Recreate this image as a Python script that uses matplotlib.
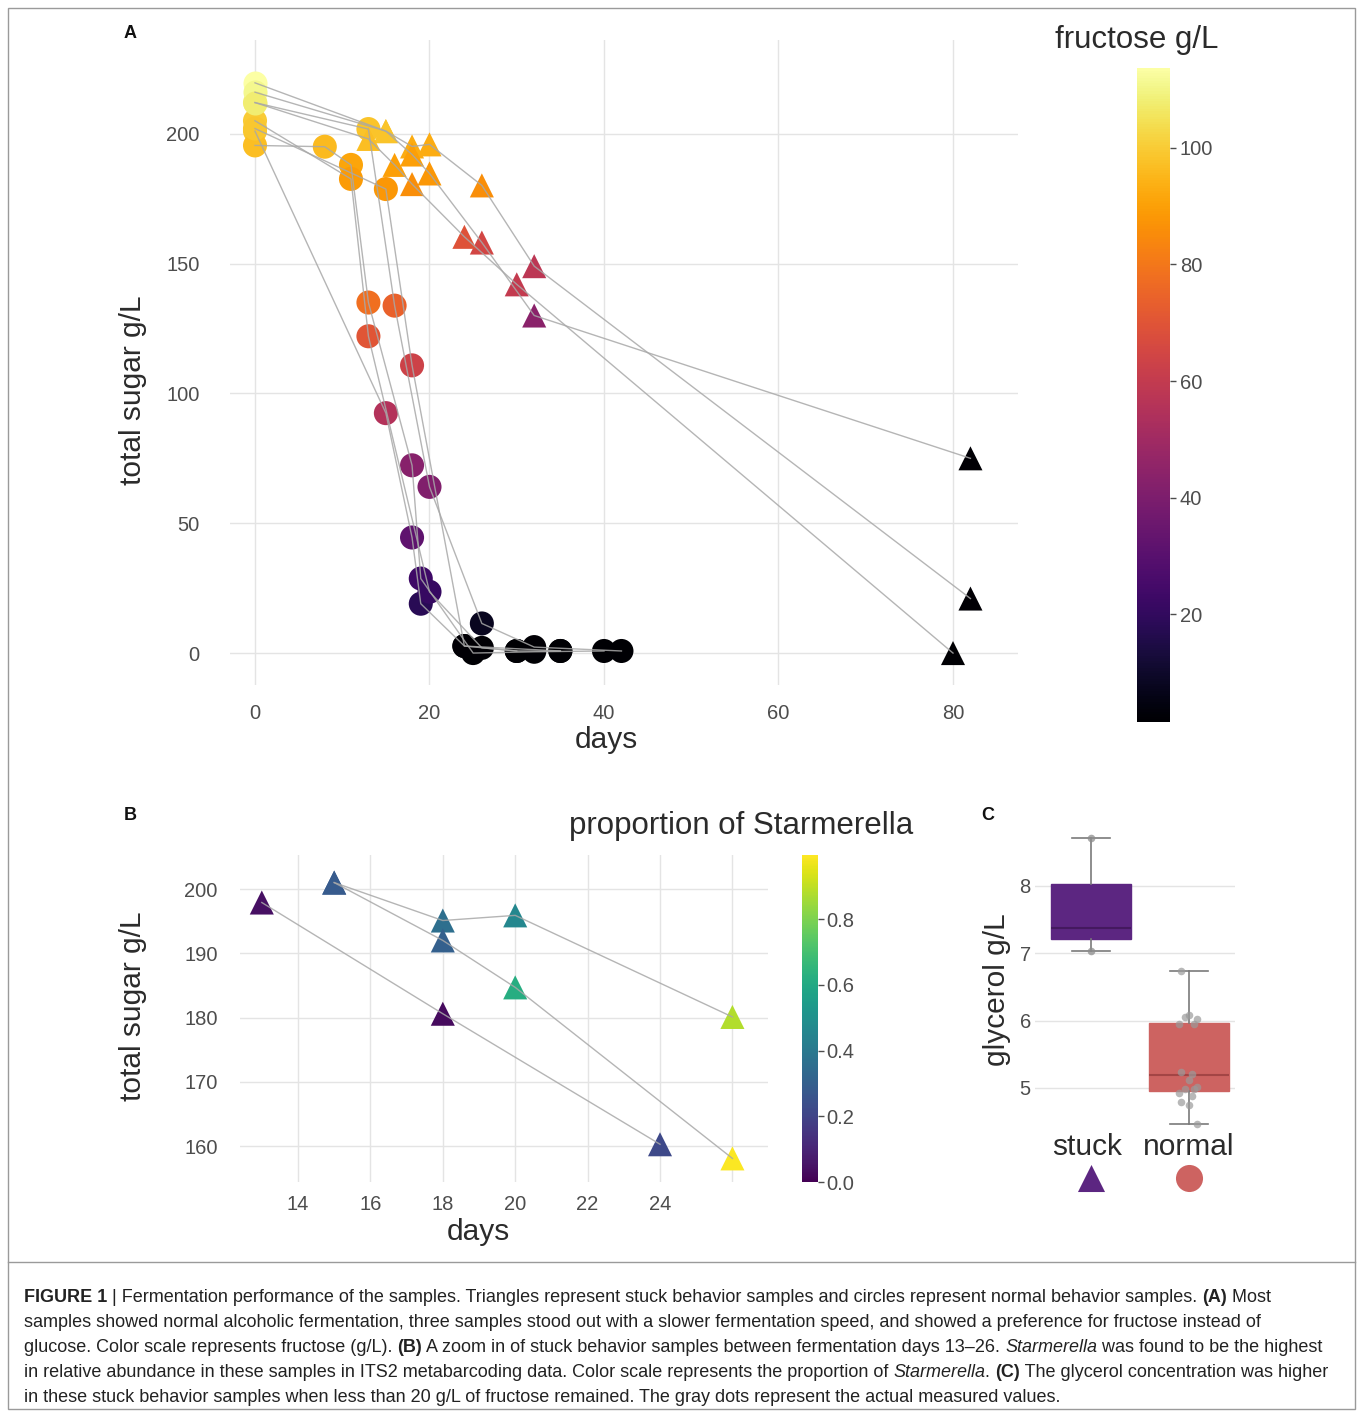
import matplotlib
matplotlib.use("Agg")
import matplotlib.pyplot as plt
from matplotlib.colors import Normalize
from matplotlib.cm import ScalarMappable
from matplotlib.patches import Rectangle
from matplotlib.lines import Line2D

W, H = 1360, 1415

# ---- panel A: one list per sample (5 normal, then 3 stuck)
a_days = [
    [0, 15, 18, 19, 24, 30, 35],
    [0, 8, 11, 13, 18, 19, 25, 32, 40],
    [0, 11, 13, 20, 26, 30],
    [0, 13, 16, 20, 26, 32, 42],
    [0, 15, 18, 24, 35],
    [0, 15, 18, 20, 26, 32, 82],
    [0, 15, 18, 20, 26, 32, 82],
    [0, 13, 16, 18, 24, 30, 80],
]
a_sugar = [
    [201, 92.4, 44.5, 19, 2.7, 0.8, 0.8],
    [195.5, 195, 188, 135, 72.3, 28.7, 0, 0.5, 0.8],
    [205, 182.6, 122, 23.6, 2, 0.8],
    [212, 201.8, 133.8, 64, 11.4, 2.3, 0.8],
    [202, 178.7, 110.8, 2.7, 0.8],
    [219.6, 201, 195.1, 195.9, 180.1, 149, 21],
    [216, 201, 192, 184.7, 158.1, 130, 75],
    [212, 198, 188, 180.6, 160.3, 142, 0],
]
a_fructose = [
    [99, 55, 32, 18, 2, 1.5, 1.5],
    [97, 96, 91, 78, 43, 23, 1.5, 1.5, 1.5],
    [100, 89, 70, 21, 2, 1.5],
    [108, 98, 74, 41, 8, 2, 1.5],
    [99, 88, 63, 2, 1.5],
    [113.7, 98, 93, 93, 86, 58, 2],
    [111, 98, 90, 88, 65, 44, 2],
    [108, 97, 90, 86, 69, 60, 1.5],
]
a_stuck = [False, False, False, False, False, True, True, True]

# ---- panel B: stuck samples, days 13-26
b_days = [[13, 18, 24], [15, 18, 20, 26], [15, 18, 20, 26]]
b_sugar = [[197.9, 180.6, 160.3], [201, 195.1, 195.9, 180.1], [201, 192, 184.7, 158.1]]
b_starmerella = [[0.04, 0.03, 0.22], [0.28, 0.36, 0.46, 0.88], [0.28, 0.30, 0.62, 0.99]]

# ---- panel C: glycerol
c_groups = ["stuck", "normal"]
c_whislo = [7.03, 4.46]
c_q1 = [7.21, 4.96]
c_med = [7.37, 5.19]
c_q3 = [8.03, 5.96]
c_whishi = [8.72, 6.73]
c_stuck_values = [8.72, 7.03]
c_normal_values = [6.73, 6.09, 6.02, 6.05, 5.95, 5.95, 5.20, 5.23, 5.11,
                   5.02, 4.98, 4.98, 4.93, 4.88, 4.79, 4.74, 4.47]

GRID = "#e4e4e4"
TICK = "#4d4d4d"
TXT = "#2b2b2b"
LINE = "#a8a8a8"
FRAME = "#9a9a9a"

plt.rcParams['font.family'] = ['Liberation Sans', 'DejaVu Sans']


def fbox(l, t, r, b):
    return [l / W, 1 - b / H, (r - l) / W, (b - t) / H]


def fx(px):
    return px / W


def fy(py):
    return 1 - py / H


def clean(ax):
    for s in ax.spines.values():
        s.set_visible(False)
    ax.tick_params(length=0, labelsize=14.5, labelcolor=TICK)
    ax.grid(color=GRID, lw=1.0)
    ax.set_axisbelow(True)


fig = plt.figure(figsize=(W / 100, H / 100), dpi=100)

# ================= panel A
axA = fig.add_axes(fbox(230, 40, 1018, 685))
clean(axA)
normA = Normalize(vmin=1.5, vmax=113.7)
cmapA = plt.get_cmap("inferno")
for d, s, f, st in zip(a_days, a_sugar, a_fructose, a_stuck):
    circ = [i for i in range(len(d)) if not (st and d[i] > 0)]
    tri = [i for i in range(len(d)) if st and d[i] > 0]
    axA.scatter([d[i] for i in circ], [s[i] for i in circ], c=[f[i] for i in circ],
                cmap=cmapA, norm=normA, s=300, marker="o", lw=0, zorder=2)
    axA.scatter([d[i] for i in tri], [s[i] for i in tri], c=[f[i] for i in tri],
                cmap=cmapA, norm=normA, s=300, marker="^", lw=0, zorder=2)
for d, s in zip(a_days, a_sugar):
    axA.plot(d, s, color=LINE, lw=1.0, alpha=0.85, zorder=3)
axA.set_xlim(-2.865, 87.45)
axA.set_ylim(-12.3, 236.1)
axA.set_xticks([0, 20, 40, 60, 80])
axA.set_yticks([0, 50, 100, 150, 200])
axA.tick_params(axis="y", pad=22)
axA.tick_params(axis="x", pad=14)

caxA = fig.add_axes(fbox(1137, 68, 1170, 722))
cbA = fig.colorbar(ScalarMappable(norm=normA, cmap=cmapA), cax=caxA, ticks=[20, 40, 60, 80, 100])
cbA.outline.set_visible(False)
caxA.tick_params(length=4, width=1, color=TICK, labelsize=14.5, labelcolor=TICK, pad=3)
fig.text(fx(1055), fy(40), "fructose g/L", fontsize=22.5, color=TXT, ha="left", va="center")

fig.text(fx(133), fy(390), "total sugar g/L", rotation=90, fontsize=21.5, color=TXT,
         ha="center", va="center")
fig.text(fx(606), fy(740), "days", fontsize=21.5, color=TXT, ha="center", va="center")

# ================= panel B
axB = fig.add_axes(fbox(240, 855, 768, 1182))
clean(axB)
normB = Normalize(vmin=0, vmax=0.995)
cmapB = plt.get_cmap("viridis")
for d, s, p in zip(b_days, b_sugar, b_starmerella):
    axB.scatter(d, s, c=p, cmap=cmapB, norm=normB, s=300, marker="^", lw=0, zorder=2)
    axB.plot(d, s, color=LINE, lw=1.0, alpha=0.85, zorder=3)
axB.set_xlim(12.398, 26.983)
axB.set_ylim(154.43, 205.29)
axB.set_xticks([14, 16, 18, 20, 22, 24, 26])
axB.set_xticklabels(["14", "16", "18", "20", "22", "24", ""])
axB.set_yticks([160, 170, 180, 190, 200])
axB.tick_params(axis="y", pad=16)
axB.tick_params(axis="x", pad=9)

caxB = fig.add_axes(fbox(802, 855, 818, 1182))
cbB = fig.colorbar(ScalarMappable(norm=normB, cmap=cmapB), cax=caxB, ticks=[0, 0.2, 0.4, 0.6, 0.8])
cbB.outline.set_visible(False)
cbB.set_ticklabels(["0.0", "0.2", "0.4", "0.6", "0.8"])
caxB.tick_params(length=4, width=1, color=TICK, labelsize=14.5, labelcolor=TICK, pad=2)
fig.text(fx(913), fy(826), "proportion of Starmerella", fontsize=22.5, color=TXT,
         ha="right", va="center")

fig.text(fx(133), fy(1006), "total sugar g/L", rotation=90, fontsize=21.5, color=TXT,
         ha="center", va="center")
fig.text(fx(478), fy(1232), "days", fontsize=21.5, color=TXT, ha="center", va="center")

# ================= panel C
axC = fig.add_axes(fbox(1035, 830, 1235, 1130))
clean(axC)
axC.grid(axis="x", visible=False)
box_fill = ["#5c2681", "#cd6361"]
box_med = ["#44195f", "#a34545"]
for i, g in enumerate(c_groups):
    st = dict(label=g, whislo=c_whislo[i], q1=c_q1[i], med=c_med[i],
              q3=c_q3[i], whishi=c_whishi[i], fliers=[])
    axC.bxp([st], positions=[i + 1], widths=0.82, patch_artist=True,
            boxprops=dict(facecolor=box_fill[i], edgecolor=box_fill[i], lw=1),
            medianprops=dict(color=box_med[i], lw=1.5),
            whiskerprops=dict(color="#7a7a7a", lw=1.2),
            capprops=dict(color="#7a7a7a", lw=1.2), capwidths=0.38,
            showfliers=False, manage_ticks=False)
jit = [-0.08, 0.0, 0.08, -0.04, 0.05, -0.1, 0.03]
axC.scatter([1] * len(c_stuck_values), c_stuck_values,
            s=30, color="#8c8c8c", alpha=0.75, lw=0, zorder=4)
axC.scatter([2 + jit[i % len(jit)] for i in range(len(c_normal_values))], c_normal_values,
            s=30, color="#9a9a9a", alpha=0.7, lw=0, zorder=4)
axC.set_xlim(0.4286, 2.469)
axC.set_ylim(4.374, 8.832)
axC.set_yticks([5, 6, 7, 8])
axC.set_xticks([])
axC.tick_params(axis="y", pad=3)
fig.text(fx(997), fy(990), "glycerol g/L", rotation=90, fontsize=21.5, color=TXT,
         ha="center", va="center")

axL = fig.add_axes(fbox(1035, 1130, 1235, 1200))
axL.set_axis_off()
axL.set_xlim(0.4286, 2.469)
axL.set_ylim(0, 1)
axL.scatter([1], [0.31], marker="^", s=380, color=box_fill[0], lw=0)
axL.scatter([2], [0.31], marker="o", s=380, color=box_fill[1], lw=0)
for i, g in enumerate(c_groups):
    axL.text(i + 1 - 0.04 * (i == 0), 0.76, g, fontsize=21.5, color=TXT, ha="center", va="center")

# ================= panel letters
for lab, x, y in [("A", 130, 33), ("B", 130, 816), ("C", 988, 816)]:
    fig.text(fx(x), fy(y), lab, fontsize=13, fontweight="bold", color="#111111",
             ha="center", va="center")

# frame round figure and caption, divider under the figure
fig.patches.append(Rectangle((fx(8), fy(1409)), fx(1355) - fx(8), fy(8) - fy(1409),
                             transform=fig.transFigure, fill=False, edgecolor=FRAME, lw=1))
fig.lines.append(Line2D([fx(8), fx(1355)], [fy(1262), fy(1262)], transform=fig.transFigure,
                        color=FRAME, lw=1))

# ================= caption
caption = [
    [("FIGURE 1 ", "b"), ("| Fermentation performance of the samples. Triangles represent stuck "
      "behavior samples and circles represent normal behavior samples. ", ""), ("(A)", "b"), (" Most", "")],
    [("samples showed normal alcoholic fermentation, three samples stood out with a slower "
      "fermentation speed, and showed a preference for fructose instead of", "")],
    [("glucose. Color scale represents fructose (g/L). ", ""), ("(B)", "b"),
     (" A zoom in of stuck behavior samples between fermentation days 13\u201326. ", ""),
     ("Starmerella", "i"), (" was found to be the highest", "")],
    [("in relative abundance in these samples in ITS2 metabarcoding data. Color scale represents "
      "the proportion of ", ""), ("Starmerella", "i"), (". ", ""), ("(C)", "b"),
     (" The glycerol concentration was higher", "")],
    [("in these stuck behavior samples when less than 20 g/L of fructose remained. The gray dots "
      "represent the actual measured values.", "")],
]
renderer = fig.canvas.get_renderer()
cap_size = 13.0
for k, runs in enumerate(caption):
    x = fx(24)
    y = fy(1302 + 25 * k)
    for txt, st in runs:
        t = fig.text(x, y, txt, fontsize=cap_size, color="#222222", ha="left", va="baseline",
                     fontweight="bold" if "b" in st else "normal",
                     fontstyle="italic" if "i" in st else "normal")
        x += t.get_window_extent(renderer=renderer).width / W

fig.savefig("out.png", dpi=100)
